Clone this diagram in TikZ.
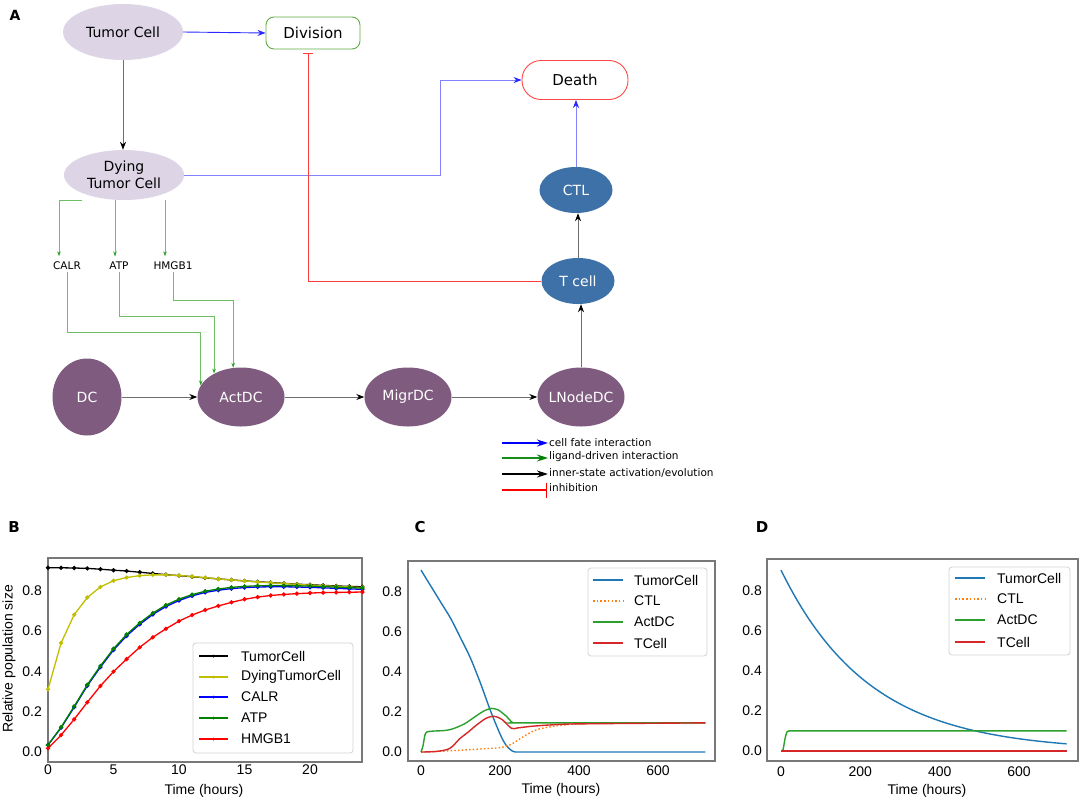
\documentclass[tikz,border=0pt]{standalone}
\usepackage{fontspec}
\setmainfont{DejaVu Sans}
\newfontfamily\plotfont{Liberation Sans}
\usetikzlibrary{arrows.meta,calc,shapes.geometric}
\definecolor{tumorfill}{RGB}{221,213,230}
\definecolor{dcfill}{RGB}{126,91,127}
\definecolor{tfill}{RGB}{61,113,168}
\definecolor{liggreen}{RGB}{110,190,100}
\definecolor{lighead}{RGB}{40,160,40}
\definecolor{divgreen}{RGB}{100,170,70}
\definecolor{deathred}{RGB}{255,70,70}
\definecolor{inhred}{RGB}{255,60,60}
\definecolor{fateblue}{RGB}{40,40,255}
\definecolor{fatelight}{RGB}{130,130,255}
\definecolor{innergrey}{RGB}{110,110,110}
\definecolor{mplblue}{RGB}{31,119,180}
\definecolor{mplorange}{RGB}{255,127,14}
\definecolor{mplgreen}{RGB}{44,160,44}
\definecolor{mplred}{RGB}{214,39,40}
\definecolor{ycol}{RGB}{191,191,0}
\definecolor{bcol}{RGB}{0,0,255}
\definecolor{gcol}{RGB}{0,128,0}
\definecolor{rcol}{RGB}{255,0,0}
\definecolor{framegrey}{RGB}{120,120,120}
\definecolor{legframe}{RGB}{210,210,210}
\begin{document}
\begin{tikzpicture}[x=1pt,y=-1pt,
 nodefont/.style={font=\fontsize{14}{16.8}\selectfont},
 tumorst/.style={ellipse,fill=tumorfill,inner sep=0pt,nodefont,align=center},
 dcst/.style={ellipse,fill=dcfill,text=white,inner sep=0pt,minimum width=87pt,minimum height=59pt,nodefont},
 tst/.style={ellipse,fill=tfill,text=white,inner sep=0pt,minimum width=73pt,minimum height=46pt,nodefont},
 fatebox/.style={fill=white,line width=0.9pt,inner sep=0pt,font=\fontsize{15}{18}\selectfont},
 ligand/.style={font=\fontsize{10.5}{12}\selectfont,inner sep=1.5pt},
 fatearr/.style={draw=fateblue,line width=0.9pt,-{Stealth[length=8pt,width=6pt,color=fateblue]}},
 fatethin/.style={draw=fatelight,line width=0.7pt,-{Stealth[length=8pt,width=6pt,color=fateblue]}},
 innerarr/.style={draw=innergrey,line width=0.9pt,-{Stealth[length=8pt,width=6pt,color=black]}},
 ligarr/.style={draw=liggreen,line width=0.8pt,-{Stealth[length=5pt,width=3.5pt,color=lighead]}},
 inhib/.style={draw=inhred,line width=0.9pt,-{Bar[width=10pt,color=inhred]}},
 legtext/.style={anchor=west,font=\fontsize{10.5}{12}\selectfont,inner sep=1pt},
 legarr/.style={line width=1.5pt,-{Stealth[length=11pt,width=7pt]}},
 plotlab/.style={font=\plotfont\fontsize{14}{16}\selectfont,inner sep=0pt},
 axframe/.style={draw=framegrey,line width=1.1pt},
 legbox/.style={draw=legframe,fill=white,rounded corners=3pt,line width=0.8pt,inner sep=0pt},
 panel/.style={font=\bfseries\fontsize{15}{18}\selectfont,inner sep=0pt}
]
\useasboundingbox (0,0) rectangle (1084,804);
\fill[white] (0,0) rectangle (1084,804);

% ---------- Panel A ----------
\node[panel,font=\bfseries\fontsize{14}{16}\selectfont] (labA) at (15,15) {A};

\node[tumorst,minimum width=120pt,minimum height=56pt] (tc) at (123,32) {Tumor Cell};
\node[tumorst,minimum width=120pt,minimum height=50pt] (dtc) at (124,175) {Dying\\Tumor Cell};
\node[fatebox,draw=divgreen,rounded corners=8pt,minimum width=94pt,minimum height=32pt] (div) at (313,33) {Division};
\node[fatebox,draw=deathred,rounded corners=19pt,minimum width=106pt,minimum height=39pt] (death) at (575,80) {Death};
\node[tst] (ctl) at (576,190) {CTL};
\node[tst] (tcell) at (578,281) {T cell};
\node[ligand] (calr) at (67,266) {CALR};
\node[ligand] (atp) at (119,266) {ATP};
\node[ligand] (hmgb) at (173,266) {HMGB1};
\node[dcst,minimum width=69pt,minimum height=77pt] (dc) at (87,397) {DC};
\node[dcst] (act) at (241,397) {ActDC};
\node[dcst] (migr) at (408,397) {MigrDC};
\node[dcst] (lnode) at (581,397) {\makebox[0pt]{LNodeDC}};

\coordinate (bend) at (440,80);
\coordinate (lv1) at (0,332);
\coordinate (lv2) at (0,316);
\coordinate (lv3) at (0,300);

\draw[fatearr] (tc.east) -- (div.west);
\draw[innerarr] (tc.south) -- (tc.south |- dtc.north);
\draw[fatethin] (dtc.east) -- (dtc.east -| bend) -- (bend) -- (death.west);
\draw[fatethin] (ctl.north) -- (ctl.north |- death.south);
\draw[innerarr] (tcell.north) -- (tcell.north |- ctl.south);
\draw[innerarr] (lnode.north) -- (lnode.north |- tcell.south);
\draw[inhib] (tcell.west) -| ([xshift=-5pt,yshift=-4pt]div.south);

\draw[ligarr,shorten >=4pt] ($(dtc.south)+(-42,0)$) -| ($(calr.north)+(-8,0)$);
\draw[ligarr,shorten >=4pt] ($(dtc.south)+(-9,0)$) -- ($(atp.north)+(-4,0)$);
\draw[ligarr,shorten >=4pt] ($(dtc.south)+(41,0)$) -- ($(hmgb.north)+(-8,0)$);
\draw[ligarr] (calr.south) |- (act.164 |- lv1) -- (act.164);
\draw[ligarr] (atp.south) |- (act.139 |- lv2) -- (act.139);
\draw[ligarr] (hmgb.south) |- (act.105 |- lv3) -- (act.105);

\draw[innerarr] (dc) -- (act);
\draw[innerarr] (act) -- (migr);
\draw[innerarr] (migr) -- (lnode);

% legend
\coordinate (g1) at (502,443);
\coordinate (g2) at (502,458);
\coordinate (g3) at (502,474);
\coordinate (g4) at (502,490);
\node[legtext] (t1) at (548,443) {cell fate interaction};
\node[legtext] (t2) at (548,457) {ligand-driven interaction};
\node[legtext] (t3) at (548,473) {inner-state activation/evolution};
\node[legtext] (t4) at (548,488) {inhibition};
\draw[legarr,draw=bcol,-{Stealth[length=11pt,width=7pt,color=bcol]}] (g1) -- (g1 -| t1.west);
\draw[legarr,draw=gcol!90!white,-{Stealth[length=11pt,width=7pt,color=gcol]}] (g2) -- (g2 -| t2.west);
\draw[legarr,draw=black,-{Stealth[length=11pt,width=7pt,color=black]}] (g3) -- (g3 -| t3.west);
\draw[line width=1.5pt,draw=rcol,-{Bar[width=15pt,color=rcol]}] (g4) -- ([xshift=-1pt]g4 -| t4.west);

% ---------- Panel B ----------
\node[panel] (labB) at (14,527) {B};
\draw[axframe] (48,558) rectangle (362,762);
\begin{scope}[shift={(48,752)},x=13.1pt,y=202pt]
\draw[black,line width=1.3pt,mark=*,mark size=1.4pt] plot coordinates {(0,.912)(1,.912)(2,.911)(3,.909)(4,.905)(5,.9)(6,.896)(7,.89)(8,.884)(9,.878)(10,.873)(11,.868)(12,.862)(13,.857)(14,.852)(15,.847)(16,.843)(17,.839)(18,.835)(19,.831)(20,.828)(21,.825)(22,.822)(23,.82)(24,.818)};
\draw[ycol,line width=1.3pt,mark=*,mark size=1.4pt] plot coordinates {(0,.31)(1,.54)(2,.68)(3,.765)(4,.817)(5,.848)(6,.864)(7,.873)(8,.877)(9,.877)(10,.874)(11,.869)(12,.863)(13,.857)(14,.852)(15,.847)(16,.842)(17,.838)(18,.834)(19,.83)(20,.826)(21,.823)(22,.82)(23,.817)(24,.814)};
\draw[bcol,line width=1.3pt,mark=*,mark size=1.4pt] plot coordinates {(0,.035)(1,.12)(2,.222)(3,.328)(4,.42)(5,.505)(6,.575)(7,.632)(8,.681)(9,.72)(10,.75)(11,.773)(12,.79)(13,.801)(14,.809)(15,.814)(16,.817)(17,.818)(18,.818)(19,.817)(20,.815)(21,.813)(22,.81)(23,.808)(24,.805)};
\draw[gcol,line width=1.3pt,mark=*,mark size=1.4pt] plot coordinates {(0,.035)(1,.123)(2,.226)(3,.333)(4,.426)(5,.511)(6,.582)(7,.639)(8,.688)(9,.727)(10,.757)(11,.779)(12,.796)(13,.807)(14,.815)(15,.82)(16,.823)(17,.824)(18,.824)(19,.823)(20,.821)(21,.819)(22,.816)(23,.814)(24,.811)};
\draw[rcol,line width=1.3pt,mark=*,mark size=1.4pt] plot coordinates {(0,.018)(1,.084)(2,.162)(3,.246)(4,.327)(5,.398)(6,.46)(7,.518)(8,.568)(9,.61)(10,.648)(11,.678)(12,.703)(13,.723)(14,.741)(15,.756)(16,.767)(17,.775)(18,.78)(19,.784)(20,.787)(21,.789)(22,.79)(23,.791)(24,.792)};
\end{scope}
\foreach \v/\l in {752/0.0,711.6/0.2,671.2/0.4,630.8/0.6,590.4/0.8}
  \node[plotlab,anchor=east] at (42,\v) {\l};
\foreach \xx/\l in {48/0,113.5/5,179/10,244.5/15,310/20}
  \node[plotlab] at (\xx,770) {\l};
\node[plotlab] (xlB) at (204,791) {Time (hours)};
\node[plotlab,rotate=90] (ylB) at (9,659) {Relative population size};
\node[legbox,minimum width=160pt,minimum height=110pt] (legB) at (273,698) {};
\foreach \yy/\c/\l in {656/black/TumorCell,677/ycol/DyingTumorCell,697/bcol/CALR,718/gcol/ATP,739/rcol/HMGB1}{
  \draw[\c,line width=1.3pt] (199,\yy) -- (228,\yy);
  \fill[\c] (213.5,\yy) circle (1.5pt);
  \node[plotlab,anchor=west] at (241,\yy) {\l};
}

% ---------- Panel C ----------
\node[panel] (labC) at (420,527) {C};
\draw[axframe] (408,561) rectangle (715,761);
\begin{scope}[shift={(421,752)},x=0.395pt,y=201pt,line width=1.4pt]
\draw[mplblue] plot[smooth,tension=0.5] coordinates {(0,.905)(25,.825)(50,.745)(75,.665)(100,.568)(125,.468)(150,.345)(175,.21)(200,.09)(215,.035)(230,.006)(240,0)} -- (720,0);
\draw[mplorange,dash pattern=on 1.5pt off 2.2pt] plot[smooth,tension=0.5] coordinates {(0,0)(50,.004)(100,.009)(150,.015)(200,.022)(225,.035)(250,.065)(275,.095)(300,.115)(350,.132)(400,.14)(500,.144)(720,.145)};
\draw[mplgreen] plot[smooth,tension=0.4] coordinates {(0,0)(5,.03)(10,.085)(15,.1)(30,.104)(60,.107)(80,.115)(110,.14)(140,.18)(160,.205)(178,.217)(195,.21)(215,.18)(232,.146)(250,.145)(720,.145)};
\draw[mplred] plot[smooth,tension=0.5] coordinates {(0,0)(40,.003)(73,.018)(99,.068)(120,.1)(141,.135)(165,.168)(185,.178)(205,.162)(229,.118)(245,.12)(280,.128)(330,.135)(400,.14)(720,.145)};
\end{scope}
\foreach \v/\l in {752/0.0,711.8/0.2,671.6/0.4,631.4/0.6,591.2/0.8}
  \node[plotlab,anchor=east] at (402,\v) {\l};
\foreach \xx/\l in {421/0,500/200,579/400,658/600}
  \node[plotlab] at (\xx,771) {\l};
\node[plotlab] (xlC) at (561,790) {Time (hours)};
\node[legbox,minimum width=119pt,minimum height=88pt] (legC) at (647.5,612) {};
\foreach \yy/\c/\l in {580/mplblue/TumorCell,622/mplgreen/ActDC,643/mplred/TCell}{
  \draw[\c,line width=1.4pt] (593,\yy) -- (623,\yy);
  \node[plotlab,anchor=west] at (634,\yy) {\l};
}
\draw[mplorange,line width=1.4pt,dash pattern=on 1.5pt off 2.2pt] (593,601) -- (623,601);
\node[plotlab,anchor=west] at (634,601) {CTL};

% ---------- Panel D ----------
\node[panel] (labD) at (762,527) {D};
\draw[axframe] (767,559) rectangle (1078,761);
\begin{scope}[shift={(781,751)},x=0.3967pt,y=201pt,line width=1.4pt]
\draw[mplblue] plot[domain=0:720,samples=100] (\x,{0.9*exp(-\x/223)});
\draw[mplorange,dash pattern=on 1.5pt off 2.2pt] (0,0) -- (720,0);
\draw[mplgreen] plot[smooth,tension=0.4] coordinates {(0,0)(5,.005)(10,.06)(15,.095)(20,.1)(40,.1)} -- (720,.1);
\draw[mplred] (0,0) -- (720,0);
\end{scope}
\foreach \v/\l in {751/0.0,710.8/0.2,670.6/0.4,630.4/0.6,590.2/0.8}
  \node[plotlab,anchor=east] at (762,\v) {\l};
\foreach \xx/\l in {781/0,860.3/200,939.7/400,1019/600}
  \node[plotlab] at (\xx,772) {\l};
\node[plotlab] (xlD) at (927,791) {Time (hours)};
\node[legbox,minimum width=121pt,minimum height=88pt] (legD) at (1009.5,611) {};
\foreach \yy/\c/\l in {578/mplblue/TumorCell,620/mplgreen/ActDC,642/mplred/TCell}{
  \draw[\c,line width=1.4pt] (955,\yy) -- (985,\yy);
  \node[plotlab,anchor=west] at (997,\yy) {\l};
}
\draw[mplorange,line width=1.4pt,dash pattern=on 1.5pt off 2.2pt] (955,599) -- (985,599);
\node[plotlab,anchor=west] at (997,599) {CTL};
\end{tikzpicture}
\end{document}
